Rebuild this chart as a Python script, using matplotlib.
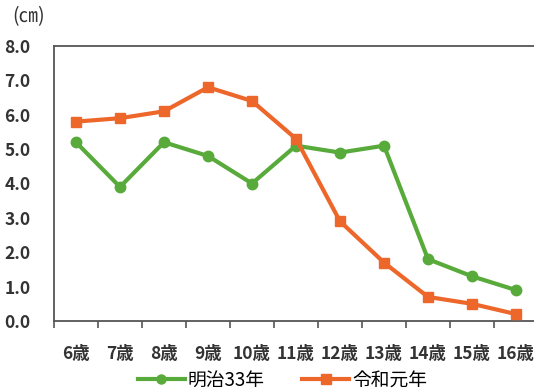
import matplotlib
matplotlib.use("Agg")
import matplotlib.pyplot as plt
from matplotlib.lines import Line2D

plt.rcParams['font.family'] = ['Noto Sans CJK JP', 'DejaVu Sans']

ages = ["6歳", "7歳", "8歳", "9歳", "10歳", "11歳", "12歳", "13歳", "14歳", "15歳", "16歳"]
meiji33 = [5.2, 3.9, 5.2, 4.8, 4.0, 5.1, 4.9, 5.1, 1.8, 1.3, 0.9]
reiwa1 = [5.8, 5.9, 6.1, 6.8, 6.4, 5.3, 2.9, 1.7, 0.7, 0.5, 0.2]
series_names = ["明治33年", "令和元年"]
yticks = [0.0, 1.0, 2.0, 3.0, 4.0, 5.0, 6.0, 7.0, 8.0]

green = "#58aa3b"
orange = "#ee672a"
text_color = "#333333"

fig = plt.figure(figsize=(5.34, 3.91), dpi=100)
ax = fig.add_axes([54 / 534, 1 - 321 / 391, 484 / 534, 275 / 391])

x = list(range(len(ages)))
ax.plot(x, meiji33, color=green, lw=3, marker='o', ms=7.5, clip_on=False, zorder=3)
ax.plot(x, reiwa1, color=orange, lw=3, marker='s', ms=7.5, clip_on=False, zorder=4)

ax.set_xlim(-0.5, len(ages) - 0.5)
ax.set_ylim(0, 8)
ax.set_yticks(yticks)
ax.set_yticklabels([f"{v:.1f}" for v in yticks], fontsize=12.5, fontweight='bold', color=text_color)
ax.tick_params(axis='y', length=0, pad=17)

ax.set_xticks(x)
ax.set_xticklabels(ages, fontsize=12.5, fontweight='bold', color=text_color)
ax.set_xticks([i - 0.5 for i in range(len(ages) + 1)], minor=True)
ax.tick_params(axis='x', which='major', length=0, pad=17)
ax.tick_params(axis='x', which='minor', length=5, width=1.2, color="#555555")

for side in ['left', 'top', 'bottom']:
    ax.spines[side].set_color("#555555")
    ax.spines[side].set_linewidth(1.3)
ax.spines['right'].set_visible(False)

fig.text(12 / 534, 1 - 17 / 391, "(㎝)", fontsize=14, color=text_color, va='center', ha='left')

handles = [
    Line2D([], [], color=green, lw=3, marker='o', ms=6.5),
    Line2D([], [], color=orange, lw=3, marker='s', ms=6.5),
]
fig.legend(handles, series_names, loc='center', bbox_to_anchor=(0.529, 1 - 380 / 391),
           ncol=2, frameon=False, handlelength=2.5, handletextpad=0.15,
           columnspacing=2.0, borderpad=0, prop={'size': 13.5})

fig.savefig("out.png", dpi=100)
